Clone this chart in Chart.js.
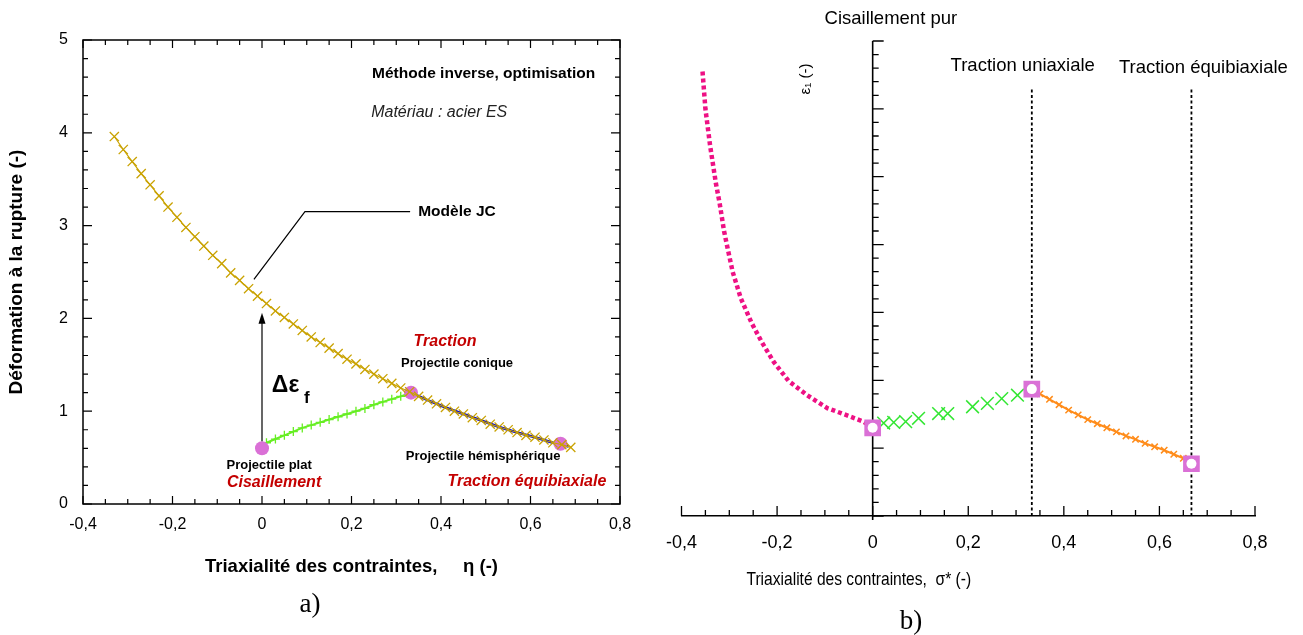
<!DOCTYPE html>
<html>
<head>
<meta charset="utf-8">
<script src="https://cdn.jsdelivr.net/npm/chart.js@4.4.3/dist/chart.umd.min.js"></script>
<style>
  html, body { margin: 0; padding: 0; background: #fff; }
  #wrap  { position: relative; width: 1303px; height: 635px; overflow: hidden; }
  #left  { position: absolute; left: 0; top: 0; }
  #right { position: absolute; left: 650px; top: 0; }
</style>
</head>
<body>
<div id="wrap">
  <canvas id="left" width="650" height="635"></canvas>
  <canvas id="right" width="653" height="635"></canvas>
</div>
<script>
  "use strict";

  /* ── a) Johnson-Cook curve vs. the three tests ───────────────────────── */
  const jcX = [-0.33, -0.31, -0.29, -0.27, -0.25, -0.23, -0.21, -0.19, -0.17, -0.15,
               -0.13, -0.11, -0.09, -0.07, -0.05, -0.03, -0.01, 0.01, 0.03, 0.05,
               0.07, 0.09, 0.11, 0.13, 0.15, 0.17, 0.19, 0.21, 0.23, 0.25,
               0.27, 0.29, 0.31, 0.33, 0.35, 0.37, 0.39, 0.41, 0.43, 0.45,
               0.47, 0.49, 0.51, 0.53, 0.55, 0.57, 0.59, 0.61, 0.63, 0.65, 0.67, 0.69];
  const jcY = [3.96, 3.82, 3.69, 3.56, 3.44, 3.32, 3.20, 3.09, 2.98, 2.88,
               2.78, 2.68, 2.59, 2.49, 2.41, 2.32, 2.24, 2.16, 2.08, 2.01,
               1.94, 1.87, 1.80, 1.74, 1.68, 1.62, 1.56, 1.51, 1.45, 1.40,
               1.35, 1.30, 1.25, 1.21, 1.16, 1.12, 1.08, 1.04, 1.00, 0.97,
               0.93, 0.90, 0.86, 0.83, 0.80, 0.77, 0.74, 0.72, 0.69, 0.66, 0.64, 0.61];
  const testX  = [0, 0.333, 0.667];
  const testY  = [0.60, 1.20, 0.65];
  const shearX = [0.01, 0.03, 0.05, 0.07, 0.09, 0.11, 0.13, 0.15, 0.17,
                  0.19, 0.21, 0.23, 0.25, 0.27, 0.29, 0.31, 0.333];
  const shearY = [0.66, 0.70, 0.74, 0.78, 0.82, 0.85, 0.88, 0.91, 0.94,
                  0.97, 1.00, 1.03, 1.07, 1.10, 1.13, 1.16, 1.20];
  const tensX  = [0.333, 0.37, 0.41, 0.45, 0.49, 0.53, 0.57, 0.61, 0.65, 0.685];
  const tensY  = [1.20, 1.12, 1.04, 0.97, 0.90, 0.83, 0.77, 0.72, 0.66, 0.62];
  const xTicksA = ["-0,4", "-0,2", "0", "0,2", "0,4", "0,6", "0,8"];
  const yTicksA = ["0", "1", "2", "3", "4", "5"];

  /* ── b) schematic ε1 vs. σ* ──────────────────────────────────────────── */
  const lowX  = [-0.356, -0.350, -0.340, -0.328, -0.320, -0.311, -0.304, -0.293, -0.276,
                 -0.253, -0.231, -0.207, -0.176, -0.137, -0.095, -0.056, -0.019, 0];
  const lowY  = [6.55, 6.00, 5.45, 4.90, 4.60, 4.20, 3.96, 3.60, 3.21,
                 2.84, 2.55, 2.27, 1.99, 1.78, 1.59, 1.49, 1.39, 1.30];
  const midX  = [0.023, 0.044, 0.069, 0.096, 0.138, 0.157, 0.209, 0.240, 0.270, 0.303];
  const midY  = [1.37, 1.38, 1.39, 1.44, 1.51, 1.51, 1.61, 1.66, 1.73, 1.78];
  const highX = [0.333, 0.35, 0.37, 0.39, 0.41, 0.43, 0.45, 0.47, 0.49,
                 0.51, 0.53, 0.55, 0.57, 0.59, 0.61, 0.63, 0.65, 0.667];
  const highY = [1.87, 1.80, 1.72, 1.64, 1.56, 1.49, 1.42, 1.36, 1.30,
                 1.24, 1.18, 1.13, 1.07, 1.02, 0.97, 0.91, 0.85, 0.78];
  const refX  = [0, 0.333, 0.667];
  const refY  = [1.30, 1.87, 0.77];
  const guideX = [0.333, 0.667];
  const guideTop = 6.32;
  const xTicksB = ["-0,4", "-0,2", "0", "0,2", "0,4", "0,6", "0,8"];

  /* ── Colours / fonts ─────────────────────────────────────────────────── */
  const GOLD = "#C9A200", ORCHID = "#DA70D6", LIME = "#66EE22", BLUE = "#0000CC";
  const RED = "#C40000", MAGENTA = "#EE1184", GREEN = "#33E633", ORANGE = "#FF8C1A";
  const SANS = "'Liberation Sans', Arial, sans-serif";

  const pts = (xs, ys) => xs.map((x, i) => ({ x, y: ys[i] }));

  function text(ctx, str, px, py, font, color, align) {
    ctx.font = font;
    ctx.fillStyle = color || "#000";
    ctx.textAlign = align || "center";
    ctx.textBaseline = "middle";
    ctx.fillText(str, px, py);
  }

  /* ── a) decorations: framed box, inward ticks, notes ─────────────────── */
  const leftFrame = {
    id: "leftFrame",
    beforeDatasetsDraw(chart) {
      const { ctx, chartArea: a, scales: { x, y } } = chart;
      ctx.save();
      ctx.strokeStyle = "#000";
      ctx.lineWidth = 1.5;
      ctx.strokeRect(a.left, a.top, a.right - a.left, a.bottom - a.top);
      ctx.lineWidth = 1.2;
      ctx.beginPath();
      for (let i = 0; i <= 24; i++) {
        const px = x.getPixelForValue(-0.4 + i * 0.05);
        const len = i % 4 === 0 ? 8 : 5;
        ctx.moveTo(px, a.bottom); ctx.lineTo(px, a.bottom - len);
        ctx.moveTo(px, a.top);    ctx.lineTo(px, a.top + len);
      }
      for (let i = 0; i <= 25; i++) {
        const py = y.getPixelForValue(i * 0.2);
        const len = i % 5 === 0 ? 9 : 5;
        ctx.moveTo(a.left, py);  ctx.lineTo(a.left + len, py);
        ctx.moveTo(a.right, py); ctx.lineTo(a.right - len, py);
      }
      ctx.stroke();
      ctx.restore();
    },
    afterDraw(chart) {
      const { ctx, scales: { x, y } } = chart;
      const X = (v) => x.getPixelForValue(v), Y = (v) => y.getPixelForValue(v);
      ctx.save();

      // leader line to "Modèle JC"
      ctx.strokeStyle = "#000";
      ctx.lineWidth = 1.2;
      ctx.beginPath();
      ctx.moveTo(X(-0.018), Y(2.42));
      ctx.lineTo(X(0.096), Y(3.15));
      ctx.lineTo(X(0.331), Y(3.15));
      ctx.stroke();

      // Δε_f arrow
      const ax = X(0), tip = Y(2.06);
      ctx.beginPath();
      ctx.moveTo(ax, Y(0.6) - 7);
      ctx.lineTo(ax, tip + 6);
      ctx.stroke();
      ctx.fillStyle = "#000";
      ctx.beginPath();
      ctx.moveTo(ax, tip);
      ctx.lineTo(ax - 3.5, tip + 11);
      ctx.lineTo(ax + 3.5, tip + 11);
      ctx.closePath();
      ctx.fill();

      text(ctx, "Méthode inverse, optimisation", X(0.246), Y(4.64), `bold 15.5px ${SANS}`, "#000", "left");
      text(ctx, "Matériau : acier ES", X(0.244), Y(4.22), `italic 16px ${SANS}`, "#222", "left");
      text(ctx, "Modèle JC", X(0.349), Y(3.15), `bold 15.5px ${SANS}`, "#000", "left");
      text(ctx, "Δε", X(0.022), Y(1.28), `bold 23px ${SANS}`, "#000", "left");
      text(ctx, "f", X(0.094), Y(1.14), `bold 17px ${SANS}`, "#000", "left");
      text(ctx, "Traction", X(0.409), Y(1.75), `italic bold 16px ${SANS}`, RED);
      text(ctx, "Projectile conique", X(0.436), Y(1.52), `bold 13px ${SANS}`, "#000");
      text(ctx, "Projectile hémisphérique", X(0.494), Y(0.51), `bold 13px ${SANS}`, "#000");
      text(ctx, "Traction équibiaxiale", X(0.592), Y(0.24), `italic bold 16px ${SANS}`, RED);
      text(ctx, "Projectile plat", X(0.016), Y(0.42), `bold 13px ${SANS}`, "#000");
      text(ctx, "Cisaillement", X(0.027), Y(0.23), `italic bold 16px ${SANS}`, RED);

      text(ctx, "a)", 310, 605, "27px 'Liberation Serif', 'DejaVu Serif', serif", "#000");
      ctx.restore();
    },
  };

  /* ── b) decorations: axis through zero, ticks, labels ────────────────── */
  const rightFrame = {
    id: "rightFrame",
    beforeDatasetsDraw(chart) {
      const { ctx, chartArea: a, scales: { x, y } } = chart;
      const x0 = x.getPixelForValue(0);
      ctx.save();
      ctx.strokeStyle = "#000";
      ctx.lineWidth = 1.6;
      ctx.beginPath();
      ctx.moveTo(x0, y.getPixelForValue(7));
      ctx.lineTo(x0, a.bottom + 4);
      ctx.stroke();
      ctx.lineWidth = 1.3;
      ctx.beginPath();
      for (let i = 0; i <= 35; i++) {
        const py = y.getPixelForValue(i * 0.2);
        const len = i % 5 === 0 ? 11 : 6;
        ctx.moveTo(x0, py); ctx.lineTo(x0 + len, py);
      }
      for (let i = 0; i <= 24; i++) {
        const px = x.getPixelForValue(-0.4 + i * 0.05);
        const len = i % 4 === 0 ? 10 : 6;
        ctx.moveTo(px, a.bottom); ctx.lineTo(px, a.bottom - len);
      }
      ctx.stroke();
      ctx.restore();
    },
    afterDraw(chart) {
      const { ctx, scales: { x, y } } = chart;
      const X = (v) => x.getPixelForValue(v), Y = (v) => y.getPixelForValue(v);
      ctx.save();
      text(ctx, "Cisaillement pur", X(0.038), Y(7.32), `18.5px ${SANS}`, "#000");
      text(ctx, "Traction uniaxiale", X(0.314), Y(6.64), `18.5px ${SANS}`, "#000");
      text(ctx, "Traction équibiaxiale", X(0.692), Y(6.61), `18.5px ${SANS}`, "#000");

      // rotated ε1 label
      ctx.save();
      ctx.translate(X(-0.14), Y(6.44));
      ctx.rotate(-Math.PI / 2);
      text(ctx, "ε₁ (-)", 0, 0, `15px ${SANS}`, "#000");
      ctx.restore();

      // narrow axis title
      ctx.save();
      ctx.translate(X(-0.029), Y(-0.94));
      ctx.scale(0.82, 1);
      text(ctx, "Triaxialité des contraintes,  σ* (-)", 0, 0, `19px ${SANS}`, "#000");
      ctx.restore();

      text(ctx, "b)", 261, 622, "27px 'Liberation Serif', 'DejaVu Serif', serif", "#000");
      ctx.restore();
    },
  };

  /* ── Chart a) ────────────────────────────────────────────────────────── */
  new Chart(document.getElementById("left"), {
    type: "scatter",
    data: {
      datasets: [
        { data: pts(jcX, jcY), showLine: true, borderColor: GOLD, borderWidth: 1.2,
          pointStyle: "crossRot", pointRadius: 6.5, pointBorderColor: GOLD, pointBorderWidth: 1.3, order: 0 },
        { data: pts(testX, testY), pointStyle: "circle", pointRadius: 7,
          pointBackgroundColor: ORCHID, pointBorderWidth: 0, order: 1 },
        { data: pts(tensX, tensY), showLine: true, borderColor: BLUE, borderWidth: 2.5,
          pointRadius: 0, order: 2 },
        { data: pts(shearX, shearY), showLine: true, borderColor: LIME, borderWidth: 2,
          pointStyle: "cross", pointRadius: 4.5, pointBorderColor: LIME, pointBorderWidth: 1.3, order: 3 },
      ],
    },
    options: {
      responsive: false,
      animation: false,
      devicePixelRatio: 1,
      layout: { padding: { top: 40, right: 30, bottom: 0, left: 0 } },
      plugins: { legend: { display: false }, tooltip: { enabled: false } },
      scales: {
        x: {
          type: "linear", min: -0.4, max: 0.8,
          afterFit: (s) => { s.height = 131; },
          border: { display: false },
          grid: { display: false, drawTicks: false },
          ticks: { stepSize: 0.2, padding: 11, color: "#000", font: { family: SANS, size: 16 },
                   callback: (v, i) => xTicksA[i] },
          title: { display: true, text: "Triaxialité des contraintes,     η (-)", color: "#000",
                   font: { family: SANS, size: 18.5, weight: "bold" }, padding: { top: 0, bottom: 57 } },
        },
        y: {
          type: "linear", min: 0, max: 5,
          afterFit: (s) => { s.width = 83; },
          border: { display: false },
          grid: { display: false, drawTicks: false },
          ticks: { stepSize: 1, padding: 15, color: "#000", font: { family: SANS, size: 16 },
                   callback: (v, i) => yTicksA[i] },
          title: { display: true, text: "Déformation à la rupture (-)", color: "#000",
                   font: { family: SANS, size: 19, weight: "bold" }, padding: { top: 5, bottom: 0 } },
        },
      },
    },
    plugins: [leftFrame],
  });

  /* ── Chart b) ────────────────────────────────────────────────────────── */
  const guideSets = guideX.map((gx) => ({
    data: [{ x: gx, y: 0 }, { x: gx, y: guideTop }],
    showLine: true, borderColor: "#000", borderWidth: 1.8, borderDash: [3, 2.5],
    pointRadius: 0, order: 5,
  }));

  new Chart(document.getElementById("right"), {
    type: "scatter",
    data: {
      datasets: [
        { data: pts(refX, refY), pointStyle: "circle", pointRadius: 5,
          pointBackgroundColor: "#fff", pointBorderWidth: 0, order: 0 },
        { data: pts(refX, refY), pointStyle: "rect", pointRadius: 11.8,
          pointBackgroundColor: ORCHID, pointBorderWidth: 0, order: 1 },
        { data: pts(highX, highY), showLine: true, borderColor: ORANGE, borderWidth: 2,
          pointStyle: "crossRot", pointRadius: 4.5, pointBorderColor: ORANGE, pointBorderWidth: 1.5, order: 2 },
        { data: pts(midX, midY), pointStyle: "crossRot", pointRadius: 9,
          pointBorderColor: GREEN, pointBorderWidth: 1.5, order: 3 },
        { data: pts(lowX, lowY), showLine: true, borderColor: MAGENTA, borderWidth: 4.5,
          borderDash: [4, 3], borderCapStyle: "butt", pointRadius: 0, order: 4 },
        ...guideSets,
      ],
    },
    options: {
      responsive: false,
      animation: false,
      devicePixelRatio: 1,
      layout: { padding: { top: 41, right: 48, bottom: 0, left: 31 } },
      plugins: { legend: { display: false }, tooltip: { enabled: false } },
      scales: {
        x: {
          type: "linear", min: -0.4, max: 0.8,
          afterFit: (s) => { s.height = 119; },
          border: { display: true, color: "#000", width: 1.6 },
          grid: { display: false, drawTicks: false },
          ticks: { stepSize: 0.2, padding: 16, color: "#000", font: { family: SANS, size: 18 },
                   callback: (v, i) => xTicksB[i] },
        },
        y: { type: "linear", min: 0, max: 7, display: false },
      },
    },
    plugins: [rightFrame],
  });
</script>
</body>
</html>
